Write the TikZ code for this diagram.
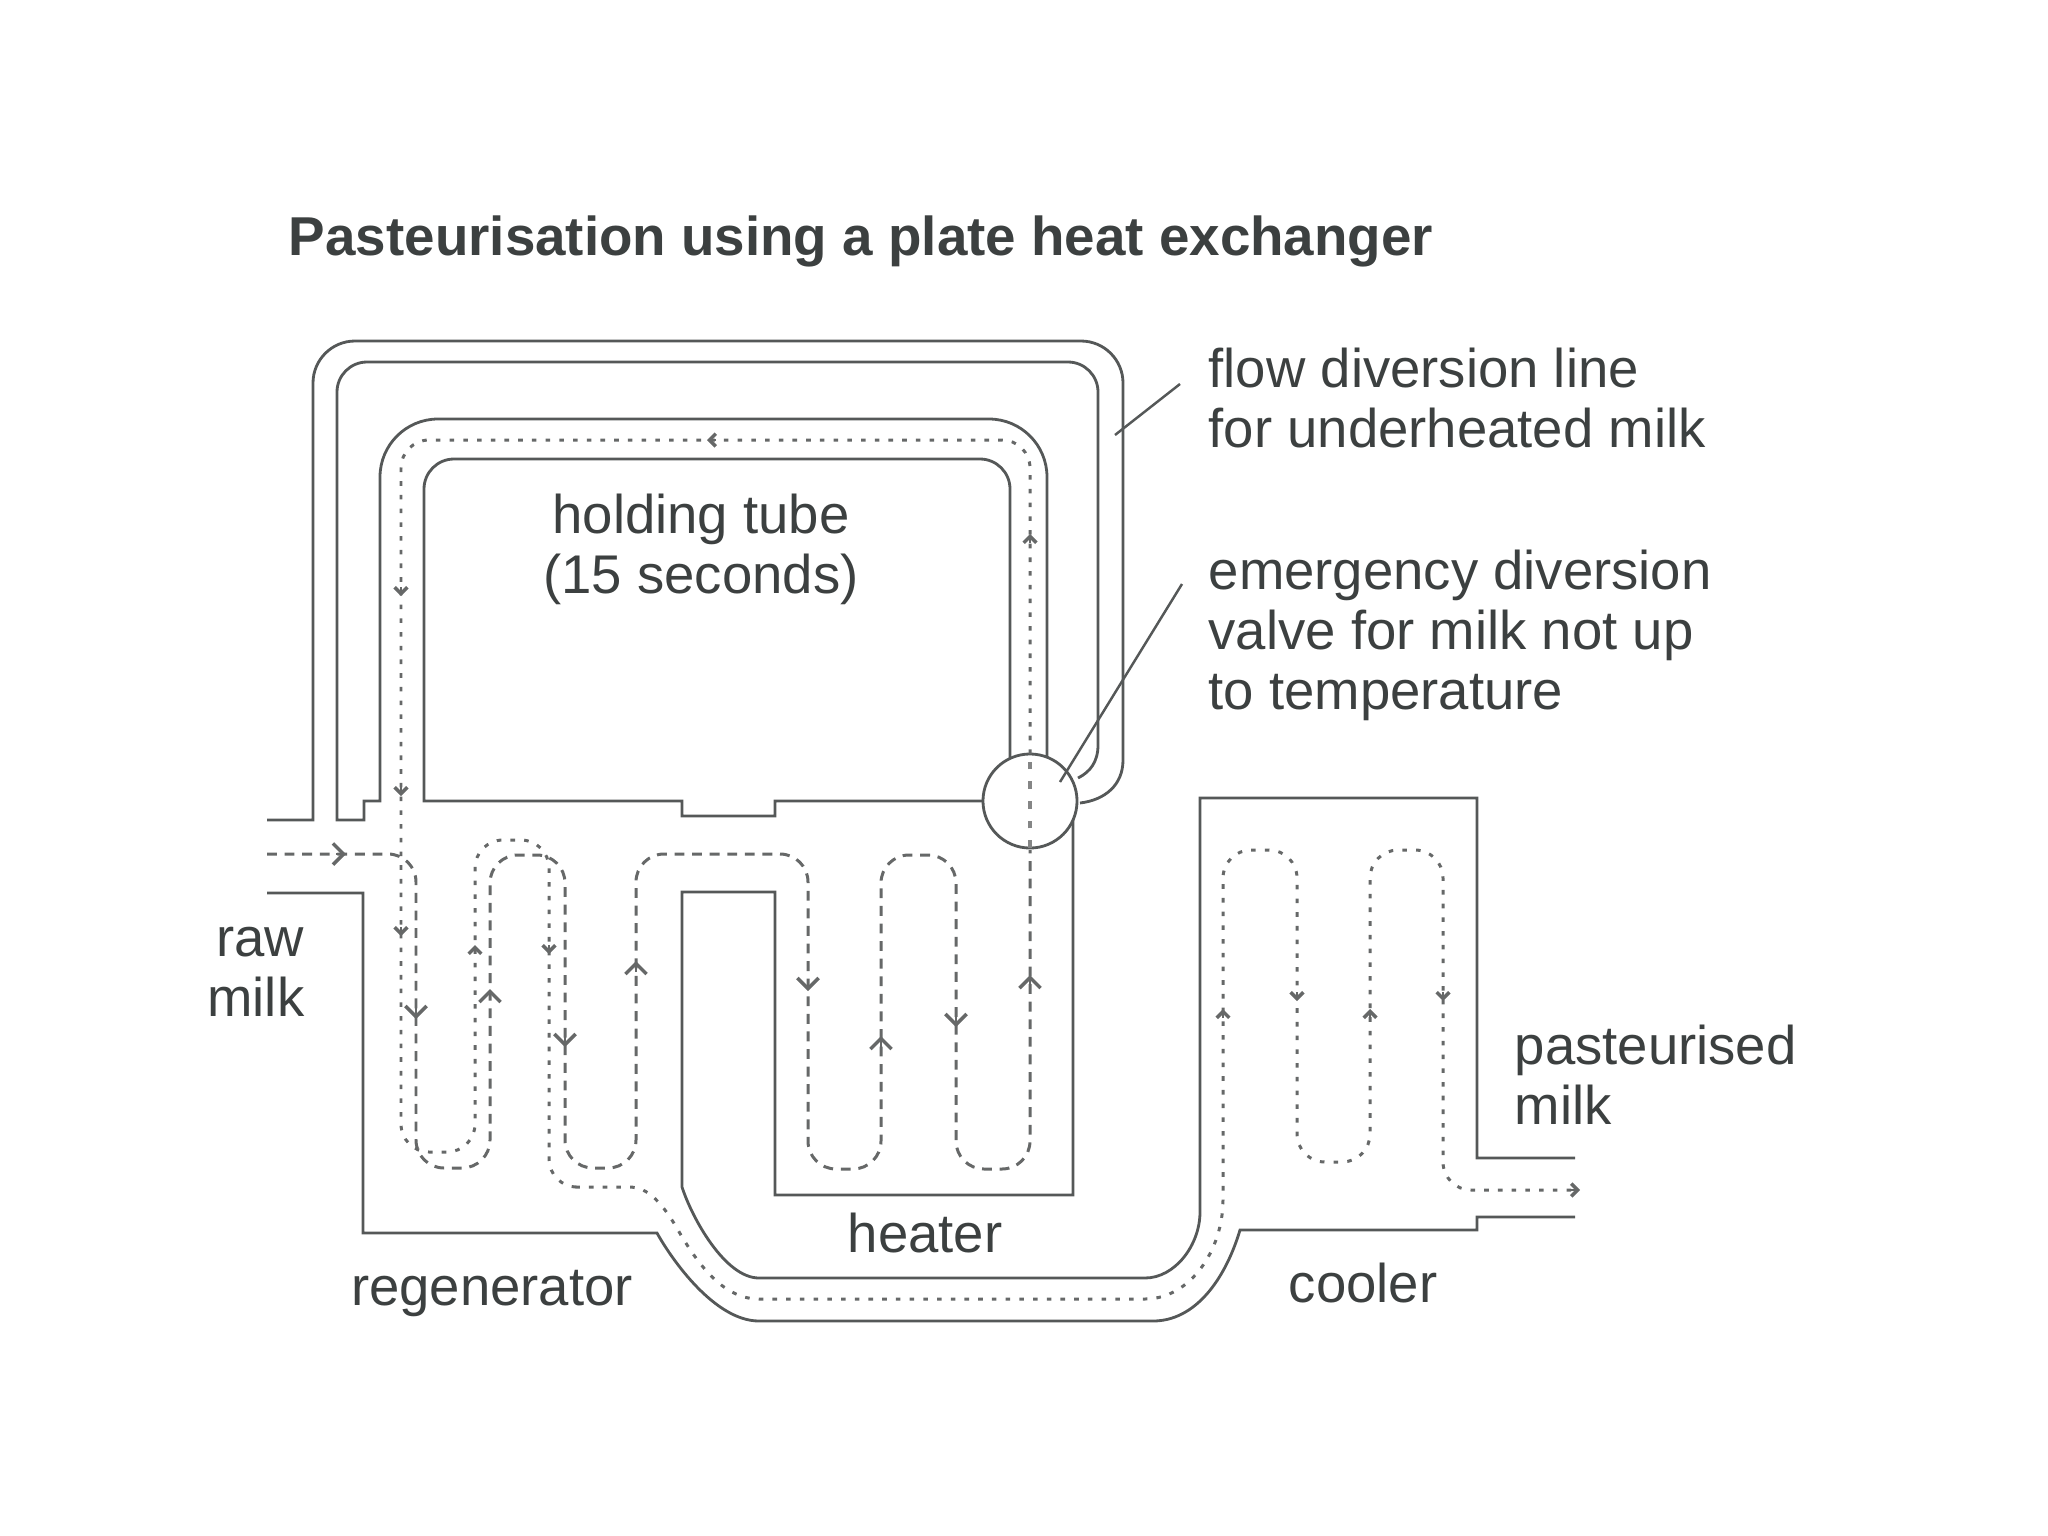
\documentclass[tikz,border=0pt]{standalone}
\usepackage{fontspec}
\setmainfont{Liberation Sans}
\usetikzlibrary{arrows.meta}
\definecolor{wallc}{HTML}{555858}
\definecolor{flowc}{HTML}{666868}
\definecolor{textc}{HTML}{3C4040}
\tikzset{
  wall/.style={draw=wallc,line width=0.8pt,line join=miter},
  leader/.style={draw=wallc,line width=0.7pt},
  dashflow/.style={draw=flowc,line width=0.85pt,dash pattern=on 2.8pt off 2.2pt,rounded corners=0.28cm},
  dotflow/.style={draw=flowc,line width=0.85pt,dash pattern=on 1.3pt off 2.6pt,rounded corners=0.28cm},
  valveflow/.style={draw=flowc!80,line width=1.2pt,dash pattern=on 2.2pt off 3.4pt},
  bigtip/.style={draw=flowc,line width=0.8pt,-{Straight Barb[length=3pt,width=6pt,line width=1pt]}},
  smalltip/.style={draw=flowc,line width=0.7pt,-{Straight Barb[length=1.8pt,width=3.6pt,line width=1pt]}},
  label/.style={text=textc,font=\fontsize{15.5}{17.07}\selectfont,inner sep=0pt,align=#1},
  label/.default=left,
  valve/.style={circle,draw=wallc,line width=0.8pt,fill=white,minimum size=0.94cm,inner sep=0pt},
}
\begin{document}
\begin{tikzpicture}[x=0.01cm,y=-0.01cm]
\useasboundingbox (0,0) rectangle (2048,1536);
% outer flow diversion line
\draw[wall] (267,820) -- (313,820) [rounded corners=0.42cm] -- (313,341) -- (1123,341) [sharp corners] -- (1123,760) .. controls (1123,785) and (1105,800) .. (1080,803);
% inner diversion wall, joining the holding tube outer wall
\draw[wall] (1078,778) .. controls (1090,772) and (1098,762) .. (1098,745) [rounded corners=0.3cm] -- (1098,362) -- (337,362) [sharp corners] -- (337,820) -- (364,820) -- (364,801) -- (380,801) [rounded corners=0.58cm] -- (380,419) -- (1047,419) [sharp corners] -- (1047,760);
% holding tube inner wall
\draw[wall] (1010,760) [rounded corners=0.3cm] -- (1010,459) -- (424,459) [sharp corners] -- (424,801) -- (682,801) -- (682,816) -- (775,816) -- (775,801) -- (985,801);
% lower outer wall
\draw[wall] (267,893) -- (363,893) -- (363,1233) -- (657,1233) .. controls (672,1260) and (715,1321) .. (759,1321) -- (1153,1321) .. controls (1195,1321) and (1225,1280) .. (1240,1230) -- (1477,1230) -- (1477,1217) -- (1575,1217);
% heater, regenerator inner wall and cooler
\draw[wall] (1073,815) -- (1073,1195) -- (775,1195) -- (775,892) -- (682,892) -- (682,1187) .. controls (692,1218) and (725,1278) .. (759,1278) -- (1145,1278) .. controls (1175,1278) and (1200,1245) .. (1200,1212) -- (1200,798) -- (1477,798) -- (1477,1158) -- (1575,1158);
% valve
\node[valve] (valve) at (1030,801) {};
% heating medium (dashed)
\draw[dashflow] (267,854) -- (416,854) -- (416,1168) -- (490,1168) -- (490,855) -- (565,855) -- (565,1168) -- (636,1168) -- (636,854) -- (808,854) -- (808,1169) -- (881,1169) -- (881,855) -- (956,855) -- (956,1169) -- (1030,1169) -- (1030,850);
% milk (dotted)
\draw[dotflow] (1030,754) -- (1030,440) -- (401,440) -- (401,1152) -- (475,1152) -- (475,840) -- (549,840) -- (549,1187) -- (600,1187) [sharp corners] .. controls (640,1187) and (655,1190) .. (678,1230) .. controls (700,1268) and (725,1299) .. (759,1299) -- (1145,1299) .. controls (1190,1299) and (1223,1250) .. (1223,1200) [rounded corners=0.28cm] -- (1223,850) -- (1297,850) -- (1297,1162) -- (1370,1162) -- (1370,850) -- (1443,850) -- (1443,1190) -- (1572,1190);
% through the valve
\draw[valveflow] (1030,848) -- (1030,754);
% big arrowheads on the dashed line
\draw[bigtip] (336,854) -- (346,854);
\draw[bigtip] (416,1008) -- (416,1019);
\draw[bigtip] (490,1000) -- (490,989);
\draw[bigtip] (565,1036) -- (565,1047);
\draw[bigtip] (636,972) -- (636,961);
\draw[bigtip] (808,980) -- (808,991);
\draw[bigtip] (881,1047) -- (881,1036);
\draw[bigtip] (956,1016) -- (956,1027);
\draw[bigtip] (1030,986) -- (1030,975);
% small arrowheads on the dotted line
\draw[smalltip] (716,440) -- (707,440);
\draw[smalltip] (401,587) -- (401,596);
\draw[smalltip] (401,787) -- (401,796);
\draw[smalltip] (401,927) -- (401,936);
\draw[smalltip] (475,954) -- (475,945);
\draw[smalltip] (549,945) -- (549,954);
\draw[smalltip] (1030,543) -- (1030,534);
\draw[smalltip] (1223,1018) -- (1223,1009);
\draw[smalltip] (1297,992) -- (1297,1001);
\draw[smalltip] (1370,1018) -- (1370,1009);
\draw[smalltip] (1443,992) -- (1443,1001);
\draw[smalltip] (1570,1190) -- (1580,1190);
% labels
\node[anchor=center,text=textc,inner sep=0pt,font=\fontsize{15.57}{18}\selectfont\bfseries] (title) at (861,241) {Pasteurisation using a plate heat exchanger};
\node[label,anchor=west] (flowlabel) at (1208,398) {flow diversion line\\for underheated milk};
\node[label=center] (holdlabel) at (701,549) {holding tube\\(15 seconds)};
\node[label,anchor=west] (emerglabel) at (1208,635) {emergency diversion\\valve for milk not up\\to temperature};
\node[label=right,anchor=east] (rawlabel) at (305,972) {raw\\milk};
\node[label,anchor=west] (pastlabel) at (1514,1075) {pasteurised\\milk};
\node[label] (heaterlabel) at (925,1233) {heater};
\node[label] (regenlabel) at (492,1294) {regenerator};
\node[label] (coolerlabel) at (1363,1283) {cooler};
% leaders
\coordinate (flowstart) at (1180,384);
\coordinate (flowend) at (1115,435);
\coordinate (emergstart) at (1182,584);
\coordinate (emergend) at (1060,782);
\draw[leader] (flowstart) -- (flowend);
\draw[leader] (emergstart) -- (emergend);
\end{tikzpicture}
\end{document}
